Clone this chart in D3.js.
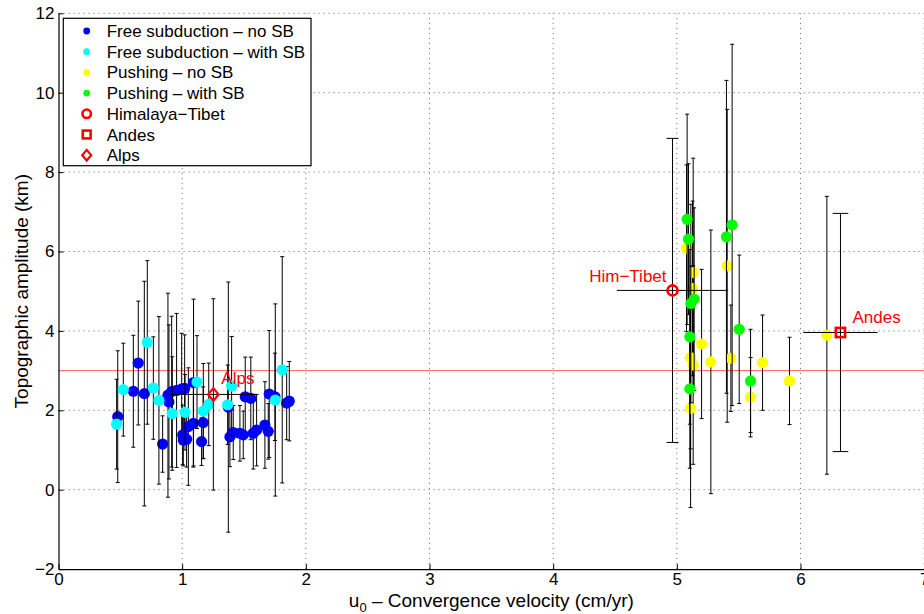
<!DOCTYPE html>
<html>
<head>
<meta charset="utf-8">
<script src="https://cdn.jsdelivr.net/npm/d3@7"></script>
<style>
  html, body { margin: 0; padding: 0; background: #fff; }
  svg { display: block; font-family: "Liberation Sans", Arial, Helvetica, sans-serif; }
</style>
</head>
<body>
<svg id="chart" width="924" height="614"></svg>
<script>
// ---- Model runs: convergence velocity (cm/yr), topographic amplitude (km), 1-sigma spread (km)
// Free subduction, no slab break-off
const freeNoSB_x   = [0.479, 0.645, 0.605, 0.694, 0.842, 0.885, 0.893, 0.915, 0.955, 0.996, 1.020, 1.004, 1.009, 1.036, 1.050, 1.090, 1.092, 1.157, 1.170, 1.373, 1.386, 1.413, 1.467, 1.494, 1.510, 1.555, 1.575, 1.602, 1.669, 1.696, 1.704, 1.750, 1.845, 1.866];
const freeNoSB_y   = [1.84, 3.19, 2.48, 2.42, 1.15, 2.38, 2.21, 2.47, 2.50, 2.54, 2.55, 1.38, 1.25, 1.27, 1.59, 1.67, 2.70, 1.21, 1.69, 2.08, 1.33, 1.44, 1.42, 1.38, 2.34, 2.30, 1.42, 1.50, 1.63, 1.47, 2.41, 2.34, 2.18, 2.23];
const freeNoSB_err = [1.66, 1.56, 1.41, 2.83, 0.71, 2.57, 1.94, 1.90, 1.94, 1.40, 1.35, 0.75, 0.65, 0.70, 1.48, 1.10, 2.10, 0.60, 0.90, 3.15, 0.75, 0.68, 0.70, 0.60, 1.00, 1.04, 0.90, 0.90, 1.09, 0.70, 1.60, 1.10, 0.92, 1.00];

// Free subduction, with slab break-off
const freeSB_x   = [0.470, 0.524, 0.718, 0.767, 0.812, 0.920, 1.023, 1.120, 1.171, 1.215, 1.368, 1.400, 1.809, 1.753];
const freeSB_y   = [1.65, 2.52, 3.71, 2.56, 2.25, 1.92, 1.95, 2.71, 1.98, 2.15, 2.14, 2.61, 3.02, 2.26];
const freeSB_err = [1.13, 1.17, 2.06, 1.29, 2.11, 1.43, 0.95, 1.17, 1.20, 1.04, 1.00, 1.25, 2.85, 2.42];

// Pushing, no slab break-off
const pushNoSB_x   = [5.078, 5.132, 5.127, 5.407, 5.200, 5.111, 5.132, 5.275, 5.437, 5.693, 5.111, 5.596, 5.911, 6.213];
const pushNoSB_y   = [6.08, 5.47, 5.07, 5.64, 3.67, 3.33, 3.14, 3.22, 3.31, 3.20, 2.05, 2.33, 2.74, 3.89];
const pushNoSB_err = [2.10, 2.88, 2.20, 3.94, 1.88, 2.30, 2.50, 3.32, 1.34, 1.20, 2.50, 1.00, 1.10, 3.50];

// Pushing, with slab break-off
const pushSB_x   = [5.083, 5.094, 5.447, 5.401, 5.140, 5.113, 5.105, 5.504, 5.105, 5.596];
const pushSB_y   = [6.81, 6.31, 6.67, 6.37, 4.80, 4.69, 3.85, 4.04, 2.54, 2.74];
const pushSB_err = [2.65, 1.90, 4.55, 3.94, 2.30, 2.50, 2.20, 1.87, 2.00, 1.30];

// Natural orogens: velocity and amplitude with their uncertainties
const refNames  = ["Himalaya\u2212Tibet", "Andes", "Alps"];
const refLabels = ["Him\u2212Tibet", "Andes", "Alps"];
const ref_x     = [4.965, 6.323, 1.252];
const ref_y     = [5.02, 3.96, 2.40];
const ref_xerr  = [0.45, 0.30, 0.35];
const ref_yerr  = [3.83, 3.00, 2.41];

const refLevel = 3;                       // reference amplitude (km)
const xTicks = [0, 1, 2, 3, 4, 5, 6, 7];
const yTicks = [-2, 0, 2, 4, 6, 8, 10, 12];

const seriesNames = ["Free subduction \u2013 no SB", "Free subduction \u2013 with SB",
                     "Pushing \u2013 no SB", "Pushing \u2013 with SB"];

// ---- Build point tables
const zip = (xs, ys, es) => xs.map((x, i) => ({ x, y: ys[i], e: es[i] }));
const series = [
  { name: seriesNames[0], color: "#0000ff", pts: zip(freeNoSB_x, freeNoSB_y, freeNoSB_err) },
  { name: seriesNames[1], color: "#00ffff", pts: zip(freeSB_x, freeSB_y, freeSB_err) },
  { name: seriesNames[2], color: "#ffff00", pts: zip(pushNoSB_x, pushNoSB_y, pushNoSB_err) },
  { name: seriesNames[3], color: "#00ff00", pts: zip(pushSB_x, pushSB_y, pushSB_err) }
];
const refs = refNames.map((n, i) => ({
  name: n, label: refLabels[i], x: ref_x[i], y: ref_y[i], ex: ref_xerr[i], ey: ref_yerr[i]
}));

// ---- Scales
const x = d3.scaleLinear().domain([0, 7]).range([58.5, 924.2]);
const y = d3.scaleLinear().domain([-2, 12]).range([569.1, 13.3]);

const svg = d3.select("#chart");
const FONT = 17;

// ---- Dotted grid
const grid = svg.append("g").attr("stroke", "#7a7a7a").attr("stroke-width", 1)
  .attr("stroke-dasharray", "1.2,3.8");
grid.selectAll("line.gx").data(xTicks.filter(d => d > 0)).join("line")
  .attr("x1", d => x(d)).attr("x2", d => x(d))
  .attr("y1", y(-2)).attr("y2", y(12));
grid.selectAll("line.gy").data(yTicks.filter(d => d > -2)).join("line")
  .attr("x1", x(0)).attr("x2", x(7))
  .attr("y1", d => y(d)).attr("y2", d => y(d));

// ---- Reference amplitude line
svg.append("line")
  .attr("x1", x(0)).attr("x2", x(7))
  .attr("y1", y(refLevel)).attr("y2", y(refLevel))
  .attr("stroke", "#ff2020").attr("stroke-opacity", 0.7).attr("stroke-width", 1);

// ---- Error bars with small tees, then markers, series by series
const cap = 2;
series.forEach(s => {
  const g = svg.append("g");
  const bars = g.append("g").attr("stroke", "#000").attr("stroke-width", 1).attr("fill", "none");
  bars.selectAll("path").data(s.pts).join("path")
    .attr("d", d => {
      const cx = x(d.x), y0 = y(d.y - d.e), y1 = y(d.y + d.e);
      return `M${cx},${y0}V${y1}M${cx - cap},${y1}H${cx + cap}M${cx - cap},${y0}H${cx + cap}`;
    });
  g.append("g").selectAll("circle").data(s.pts).join("circle")
    .attr("cx", d => x(d.x)).attr("cy", d => y(d.y)).attr("r", 5.6)
    .attr("fill", s.color);
});

// ---- Natural orogens: two-way error bars and red markers
const refCaps = [6, 7.8, 2];
const refG = svg.append("g");
refs.forEach((r, i) => {
  const cx = x(r.x), cy = y(r.y);
  const y0 = y(r.y - r.ey), y1 = y(r.y + r.ey), c = refCaps[i];
  refG.append("path")
    .attr("d", `M${cx},${y0}V${y1}M${cx - c},${y1}H${cx + c}M${cx - c},${y0}H${cx + c}` +
               `M${x(r.x - r.ex)},${cy}H${x(r.x + r.ex)}`)
    .attr("stroke", "#000").attr("stroke-width", 1).attr("fill", "none");
});

function refMarker(g, i, cx, cy, scale) {
  const k = scale || 1;
  if (i === 0) {
    g.append("circle").attr("cx", cx).attr("cy", cy).attr("r", 5 * k)
      .attr("fill", "none").attr("stroke", "#ff0000").attr("stroke-width", 2.6);
  } else if (i === 1) {
    const h = 4.6 * k;
    g.append("rect").attr("x", cx - h).attr("y", cy - h).attr("width", 2 * h).attr("height", 2 * h)
      .attr("fill", "none").attr("stroke", "#ff0000").attr("stroke-width", 2.6);
  } else {
    const w = 5.3 * k, h = 6.3 * k;
    g.append("path").attr("d", `M${cx},${cy - h}L${cx + w},${cy}L${cx},${cy + h}L${cx - w},${cy}Z`)
      .attr("fill", "none").attr("stroke", "#ff0000").attr("stroke-width", 2.2);
  }
}
refs.forEach((r, i) => refMarker(refG, i, x(r.x), y(r.y)));

// Orogen names next to their markers
const labelOffsets = [[-6, -8, "end"], [12, -9, "start"], [8, -10, "start"]];
refs.forEach((r, i) => {
  const [dx, dy, anchor] = labelOffsets[i];
  svg.append("text")
    .attr("x", x(r.x) + dx).attr("y", y(r.y) + dy)
    .attr("text-anchor", anchor).attr("font-size", FONT).attr("fill", "#ff0000")
    .text(r.label);
});

// ---- Axes with inward ticks
const yAxis = d3.axisLeft(y).tickValues(yTicks).tickSize(-5).tickSizeOuter(0).tickPadding(4)
  .tickFormat(d3.format("d"));
const xAxis = d3.axisBottom(x).tickValues(xTicks).tickSize(-5).tickSizeOuter(0).tickPadding(4)
  .tickFormat(d3.format("d"));

const gy = svg.append("g").attr("transform", `translate(${x(0)},0)`).call(yAxis);
const gx = svg.append("g").attr("transform", `translate(0,${y(-2)})`).call(xAxis);
[gx, gy].forEach(g => {
  g.attr("font-size", FONT).attr("font-family", null);
  g.selectAll("path.domain").attr("stroke", "#000").attr("stroke-width", 1.2);
  g.selectAll(".tick line").attr("stroke", "#000");
  g.selectAll(".tick text").attr("fill", "#000");
});

// ---- Axis titles
svg.append("text")
  .attr("transform", `translate(28,${(y(-2) + y(12)) / 2}) rotate(-90)`)
  .attr("text-anchor", "middle").attr("font-size", 19).attr("fill", "#000")
  .text("Topographic amplitude (km)");

const xt = svg.append("text")
  .attr("x", (x(0) + x(7)) / 2).attr("y", 607)
  .attr("text-anchor", "middle").attr("font-size", 19).attr("fill", "#000");
xt.append("tspan").text("u");
xt.append("tspan").attr("font-size", 13).attr("dy", 5).text("0");
xt.append("tspan").attr("dy", -5).text(" \u2013 Convergence velocity (cm/yr)");

// ---- Legend
const lg = svg.append("g");
lg.append("rect").attr("x", 63.3).attr("y", 18.3).attr("width", 247.7).attr("height", 147.4)
  .attr("fill", "#fff").attr("stroke", "#000").attr("stroke-width", 1.2);
const rowY = i => 31 + i * 20.7;
series.forEach((s, i) => {
  lg.append("circle").attr("cx", 86.7).attr("cy", rowY(i)).attr("r", 3.4).attr("fill", s.color);
  lg.append("text").attr("x", 106.7).attr("y", rowY(i) + 6).attr("font-size", FONT).text(s.name);
});
refs.forEach((r, i) => {
  const row = series.length + i;
  refMarker(lg, i, 86.7, rowY(row), 0.85);
  lg.append("text").attr("x", 106.7).attr("y", rowY(row) + 6).attr("font-size", FONT).text(r.name);
});
</script>
</body>
</html>
